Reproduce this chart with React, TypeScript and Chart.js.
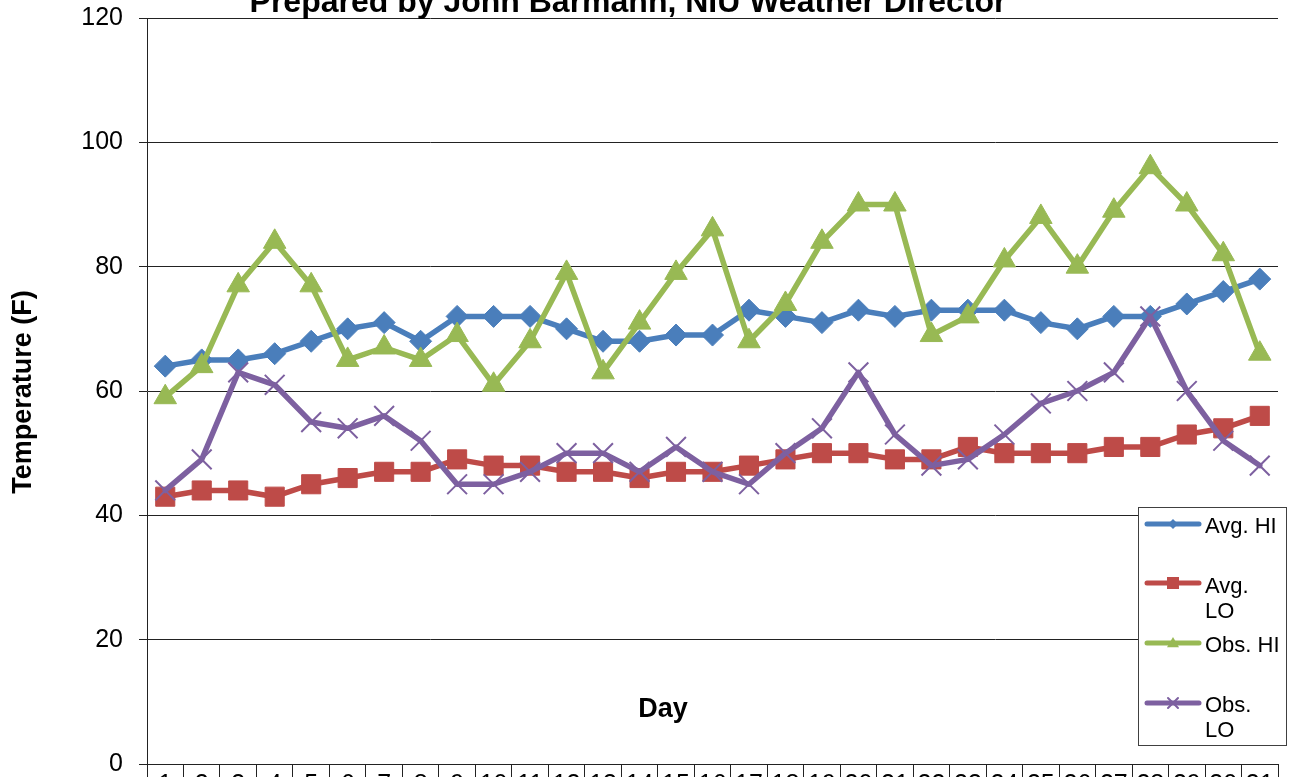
import React, { useEffect, useRef } from 'react';
import { Chart, registerables } from 'chart.js';

Chart.register(...registerables);

const days = ['1', '2', '3', '4', '5', '6', '7', '8', '9', '10', '11', '12', '13', '14', '15', '16', '17', '18', '19', '20', '21', '22', '23', '24', '25', '26', '27', '28', '29', '30', '31'];
const avgHi = [64, 65, 65, 66, 68, 70, 71, 68, 72, 72, 72, 70, 68, 68, 69, 69, 73, 72, 71, 73, 72, 73, 73, 73, 71, 70, 72, 72, 74, 76, 78];
const avgLo = [43, 44, 44, 43, 45, 46, 47, 47, 49, 48, 48, 47, 47, 46, 47, 47, 48, 49, 50, 50, 49, 49, 51, 50, 50, 50, 51, 51, 53, 54, 56];
const obsHi = [59, 64, 77, 84, 77, 65, 67, 65, 69, 61, 68, 79, 63, 71, 79, 86, 68, 74, 84, 90, 90, 69, 72, 81, 88, 80, 89, 96, 90, 82, 66];
const obsLo = [44, 49, 63, 61, 55, 54, 56, 52, 45, 45, 47, 50, 50, 47, 51, 47, 45, 50, 54, 63, 53, 48, 49, 53, 58, 60, 63, 72, 60, 52, 48];
const yTicks = [0, 20, 40, 60, 80, 100, 120];

const seriesNames = ['Avg. HI', 'Avg. LO', 'Obs. HI', 'Obs. LO'];
const seriesColors = ['#4A7EBB', '#BE4B48', '#98B954', '#7D60A0'];
const chartTitle = 'Prepared by John Barmann, NIU Weather Director';
const xTitle = 'Day';
const yTitle = 'Temperature (F)';

const FONT = '"Liberation Sans", Arial, sans-serif';

function drawMarker(ctx: CanvasRenderingContext2D, kind: string, x: number, y: number, color: string) {
  ctx.save();
  ctx.fillStyle = color;
  ctx.strokeStyle = color;
  ctx.beginPath();
  if (kind === 'diamond') {
    const r = 5;
    ctx.moveTo(x, y - r); ctx.lineTo(x + r, y); ctx.lineTo(x, y + r); ctx.lineTo(x - r, y); ctx.closePath(); ctx.fill();
  } else if (kind === 'square') {
    const r = 6;
    ctx.rect(x - r, y - r, 2 * r, 2 * r); ctx.fill();
  } else if (kind === 'triangle') {
    const r = 6;
    ctx.moveTo(x, y - r); ctx.lineTo(x + r, y + r * 0.7); ctx.lineTo(x - r, y + r * 0.7); ctx.closePath(); ctx.fill();
  } else {
    const r = 5;
    ctx.lineWidth = 2;
    ctx.moveTo(x - r, y - r); ctx.lineTo(x + r, y + r); ctx.moveTo(x + r, y - r); ctx.lineTo(x - r, y + r); ctx.stroke();
  }
  ctx.restore();
}

const overlayPlugin = {
  id: 'overlay',
  afterDraw(chart: any) {
    const ctx: CanvasRenderingContext2D = chart.ctx;
    ctx.save();
    ctx.fillStyle = '#000';
    ctx.textAlign = 'center';
    ctx.textBaseline = 'alphabetic';
    ctx.font = `bold 32px ${FONT}`;
    ctx.fillText(chartTitle, 628, 12);
    ctx.font = `bold 27px ${FONT}`;
    ctx.fillText(xTitle, 663, 717);
    ctx.save();
    ctx.translate(31, 392);
    ctx.rotate(-Math.PI / 2);
    ctx.fillText(yTitle, 0, 0);
    ctx.restore();

    // legend
    const bx = 1138, by = 507, bw = 148, bh = 238;
    ctx.fillStyle = '#fff';
    ctx.fillRect(bx, by, bw, bh);
    ctx.strokeStyle = '#404040';
    ctx.lineWidth = 1;
    ctx.strokeRect(bx + 0.5, by + 0.5, bw, bh);
    const kinds = ['diamond', 'square', 'triangle', 'cross'];
    const lineYs = [524, 583, 643, 703];
    const textLines = [['Avg. HI'], ['Avg.', 'LO'], ['Obs. HI'], ['Obs.', 'LO']];
    const baselines = [[533], [593, 618], [652], [712, 737]];
    ctx.font = `22px ${FONT}`;
    ctx.textAlign = 'left';
    for (let i = 0; i < 4; i++) {
      ctx.strokeStyle = seriesColors[i];
      ctx.lineWidth = 5;
      ctx.lineCap = 'round';
      ctx.beginPath();
      ctx.moveTo(1147, lineYs[i]);
      ctx.lineTo(1199, lineYs[i]);
      ctx.stroke();
      drawMarker(ctx, kinds[i], 1173, lineYs[i], seriesColors[i]);
      ctx.fillStyle = '#000';
      textLines[i].forEach((t, j) => ctx.fillText(t, 1205, baselines[i][j]));
    }
    ctx.restore();
  },
};

function mk(label: string, data: number[], color: string, style: string, radius: number, pbw: number, order: number) {
  return {
    label,
    data,
    borderColor: color,
    backgroundColor: color,
    pointBackgroundColor: color,
    pointBorderColor: color,
    pointStyle: style,
    pointRadius: radius,
    pointBorderWidth: pbw,
    borderWidth: 5.5,
    borderJoinStyle: 'round',
    borderCapStyle: 'round',
    tension: 0,
    order,
  };
}

export default function App() {
  const ref = useRef<HTMLCanvasElement | null>(null);
  useEffect(() => {
    if (!ref.current) return;
    Chart.defaults.font.family = FONT;
    const chart = new Chart(ref.current, {
      type: 'line',
      data: {
        labels: days,
        datasets: [
          mk(seriesNames[0], avgHi, seriesColors[0], 'rectRot', 11, 1, 4),
          mk(seriesNames[1], avgLo, seriesColors[1], 'rect', 13.5, 1, 3),
          mk(seriesNames[2], obsHi, seriesColors[2], 'triangle', 13, 1, 2),
          mk(seriesNames[3], obsLo, seriesColors[3], 'crossRot', 14, 2, 1),
        ] as any,
      },
      options: {
        responsive: false,
        animation: false,
        layout: { padding: { top: 18, right: 0, left: 0, bottom: 0 } },
        plugins: {
          legend: { display: false },
          tooltip: { enabled: false },
          title: { display: false },
        },
        scales: {
          x: {
            type: 'category',
            offset: true,
            grid: { offset: true, drawOnChartArea: false, drawTicks: true, tickLength: 40, color: '#222', lineWidth: 1 },
            border: { color: '#222', width: 1 },
            ticks: { font: { size: 25 }, color: '#000', padding: -34, maxRotation: 0, minRotation: 0, autoSkip: false },
            afterFit: (s: any) => { s.height = 46; s.paddingLeft = 0; s.paddingRight = 0; },
          },
          y: {
            min: 0,
            max: 120,
            ticks: { stepSize: 20, font: { size: 25 }, color: '#000', padding: 16 },
            afterBuildTicks: (s: any) => { s.ticks = yTicks.map((v) => ({ value: v })); },
            grid: { color: '#222', lineWidth: 1, tickLength: 8 },
            border: { color: '#222', width: 1 },
            afterFit: (s: any) => { s.width = 147; s.paddingTop = 0; s.paddingBottom = 0; },
          },
        },
      },
      plugins: [overlayPlugin],
    } as any);
    return () => chart.destroy();
  }, []);
  return (
    <div style={{ position: 'fixed', left: 0, top: 0, width: 1289, height: 777, overflow: 'hidden', background: '#fff' }}>
      <canvas ref={ref} width={1294} height={810} style={{ display: 'block', width: 1294, height: 810 }} />
    </div>
  );
}
